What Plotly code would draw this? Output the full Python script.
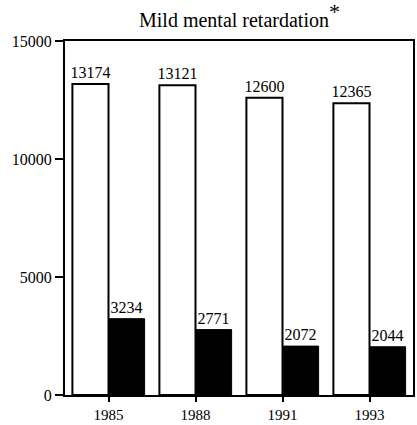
import plotly.graph_objects as go

years = ["1985", "1988", "1991", "1993"]
series_white = [13174, 13121, 12600, 12365]
series_black = [3234, 2771, 2072, 2044]
y_ticks = [0, 5000, 10000, 15000]
y_tick_labels = ["0", "5000", "10000", "15000"]

font_family = "Liberation Serif, Times New Roman, serif"

fig = go.Figure()
fig.add_trace(go.Bar(
    x=years, y=series_white, marker=dict(color="white", line=dict(color="black", width=2)),
    text=[str(v) for v in series_white], textposition="outside", constraintext="none",
    textfont=dict(family=font_family, size=16, color="black"), cliponaxis=False,
))
fig.add_trace(go.Bar(
    x=years, y=series_black, marker=dict(color="black", line=dict(color="black", width=1)),
    text=[str(v) for v in series_black], textposition="outside", constraintext="none",
    textfont=dict(family=font_family, size=16, color="black"), cliponaxis=False,
))

fig.update_layout(
    width=417, height=425,
    margin=dict(l=65, r=4, t=41, b=30, autoexpand=False),
    paper_bgcolor="white", plot_bgcolor="white",
    showlegend=False, barmode="group", bargap=0.17, bargroupgap=0,
    font=dict(family=font_family, color="black", size=14),
    xaxis=dict(type="category", showline=True, linecolor="black", linewidth=2, mirror=True,
               ticks="outside", ticklen=5, tickwidth=2, tickcolor="black", automargin=False,
               tickfont=dict(family=font_family, size=15), showgrid=False),
    yaxis=dict(range=[0, 15000], tickvals=y_ticks, ticktext=y_tick_labels, automargin=False,
               showline=True, linecolor="black", linewidth=2,
               mirror=True, ticks="outside", ticklen=8, tickwidth=2, tickcolor="black",
               tickfont=dict(family=font_family, size=16), showgrid=False, zeroline=False),
    annotations=[dict(text="Mild mental retardation<sup><span style='font-size:22px'>*</span></sup>",
                      x=0.5, y=1.0, xref="paper", yref="paper",
                      xanchor="center", yanchor="bottom", yshift=8, showarrow=False,
                      font=dict(family=font_family, size=20, color="black"))],
)

fig.write_html("out.html", config={"displayModeBar": False},
               post_script="document.body.style.margin='0';")
